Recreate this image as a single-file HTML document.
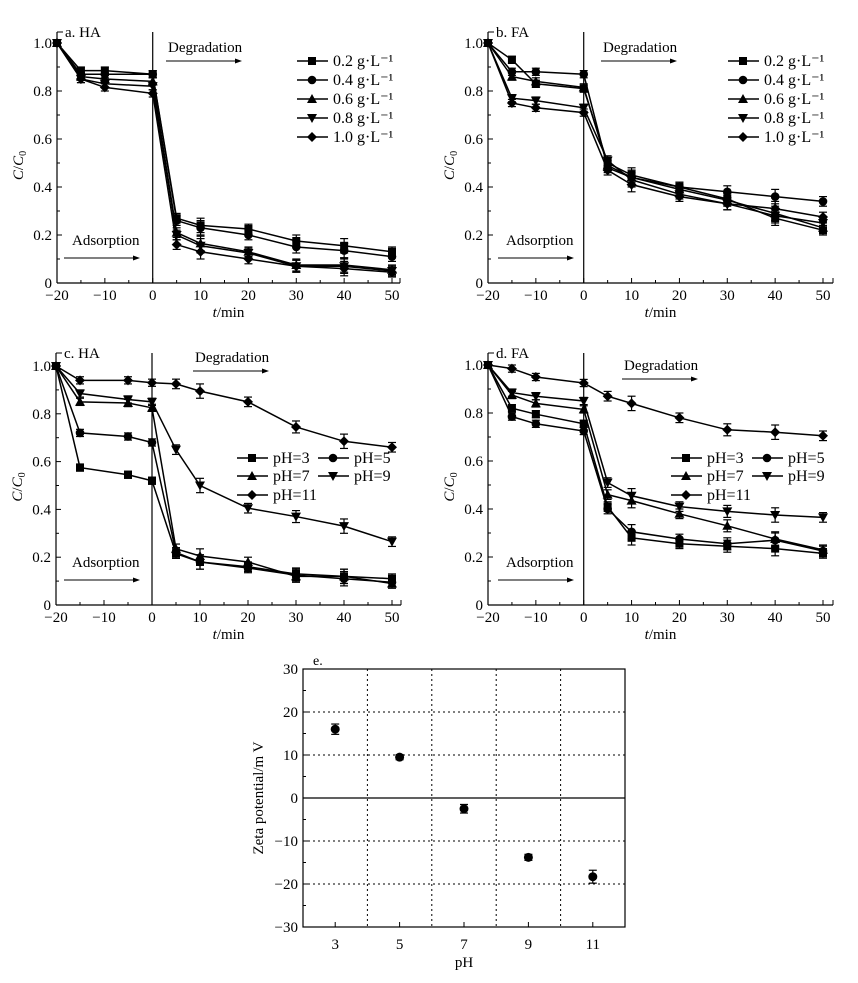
<!DOCTYPE html>
<html><head><meta charset="utf-8"><style>
body{margin:0;background:#fff}
svg{display:block;font-family:"Liberation Serif",serif}
</style></head><body>
<svg id="fig" width="858" height="983" viewBox="0 0 858 983" xmlns="http://www.w3.org/2000/svg"></svg>
<script>
// ---- data ----
const tA = [-20,-15,-10,0,5,10,20,30,40,50];
const tC = [-20,-15,-5,0,5,10,20,30,40,50];
const doseLabels = ["0.2 g·L⁻¹","0.4 g·L⁻¹","0.6 g·L⁻¹","0.8 g·L⁻¹","1.0 g·L⁻¹"];
const pHLabels = ["pH=3","pH=5","pH=7","pH=9","pH=11"];
const a02 = [1,0.885,0.885,0.87,0.27,0.24,0.225,0.175,0.155,0.13];
const a04 = [1,0.87,0.87,0.87,0.26,0.23,0.2,0.15,0.135,0.11];
const a06 = [1,0.86,0.85,0.84,0.21,0.165,0.13,0.075,0.075,0.055];
const a08 = [1,0.85,0.83,0.82,0.2,0.155,0.125,0.07,0.07,0.05];
const a10 = [1,0.85,0.815,0.79,0.16,0.13,0.1,0.07,0.06,0.045];
const b02 = [1,0.93,0.83,0.81,0.5,0.45,0.4,0.35,0.27,0.22];
const b04 = [1,0.88,0.88,0.87,0.48,0.44,0.40,0.38,0.36,0.34];
const b06 = [1,0.86,0.84,0.815,0.49,0.44,0.39,0.345,0.29,0.23];
const b08 = [1,0.77,0.76,0.73,0.51,0.43,0.37,0.33,0.28,0.25];
const b10 = [1,0.75,0.73,0.71,0.47,0.41,0.36,0.33,0.31,0.275];
const c3 = [1,0.575,0.545,0.52,0.215,0.18,0.16,0.13,0.12,0.11];
const c5 = [1,0.72,0.705,0.68,0.22,0.18,0.155,0.125,0.11,0.095];
const c7 = [1,0.85,0.845,0.825,0.235,0.205,0.18,0.12,0.12,0.09];
const c9 = [1,0.885,0.86,0.85,0.65,0.5,0.405,0.37,0.33,0.265];
const c11 = [1,0.94,0.94,0.93,0.925,0.895,0.85,0.745,0.685,0.66];
const d3 = [1,0.82,0.795,0.755,0.41,0.28,0.255,0.245,0.235,0.215];
const d5 = [1,0.785,0.755,0.725,0.4,0.305,0.275,0.255,0.27,0.225];
const d7 = [1,0.875,0.84,0.815,0.46,0.435,0.38,0.33,0.275,0.23];
const d9 = [1,0.885,0.87,0.85,0.51,0.455,0.41,0.39,0.375,0.365];
const d11 = [1,0.985,0.95,0.925,0.87,0.84,0.78,0.73,0.72,0.705];
const errShared = [0,0.015,0.015,0.015,0.02,0.03,0.02,0.025,0.03,0.02];
const zetaPH = [3,5,7,9,11];
const zetaVal = [16,9.5,-2.5,-13.8,-18.3];
const zetaErr = [1.2,0.6,1.0,0.7,1.5];
const xTicks = [-20,-10,0,10,20,30,40,50];
const yTicks = [0,0.2,0.4,0.6,0.8,1.0];
const zTicksY = [-30,-20,-10,0,10,20,30];
const zTicksX = [3,5,7,9,11];

const NS="http://www.w3.org/2000/svg";
const svg=document.getElementById('fig');
function mk(tag,attrs,parent,text){const e=document.createElementNS(NS,tag);for(const k in attrs)e.setAttribute(k,attrs[k]);if(text!==undefined)e.textContent=text;(parent||svg).appendChild(e);return e;}
function marker(g,shape,x,y){
  let e;
  if(shape==='sq')e=mk('rect',{x:x-4,y:y-4,width:8,height:8,fill:'#000'},g);
  else if(shape==='ci')e=mk('circle',{cx:x,cy:y,r:4.3,fill:'#000'},g);
  else if(shape==='tu')e=mk('polygon',{points:`${x},${y-5} ${x-5},${y+4} ${x+5},${y+4}`,fill:'#000'},g);
  else if(shape==='td')e=mk('polygon',{points:`${x},${y+5} ${x-5},${y-4} ${x+5},${y-4}`,fill:'#000'},g);
  else e=mk('polygon',{points:`${x},${y-5} ${x+5},${y} ${x},${y+5} ${x-5},${y}`,fill:'#000'},g);
  
  
}
const shapes=['sq','ci','tu','td','di'];

function panel(o){
  const g=mk('g',{});
  
  
  const X=v=>o.x0+(v+20)*(o.x50-o.x0)/70;
  const Y=v=>o.y0+v*(o.y1-o.y0);
  mk('line',{x1:o.x0,y1:o.top,x2:o.x0,y2:o.y0,stroke:'#000','stroke-width':1.2},g);
  mk('line',{x1:o.x0,y1:o.y0,x2:o.right,y2:o.y0,stroke:'#000','stroke-width':1.2},g);
  mk('line',{x1:o.x0,y1:o.top,x2:o.x0+6,y2:o.top,stroke:'#000'},g);
  mk('line',{x1:o.right,y1:o.y0,x2:o.right,y2:o.y0-5,stroke:'#000'},g);
  xTicks.forEach(v=>{const x=X(v);mk('line',{x1:x,y1:o.y0,x2:x,y2:o.y0-5,stroke:'#000'},g);
    if(v<50)mk('line',{x1:X(v+5),y1:o.y0,x2:X(v+5),y2:o.y0-3,stroke:'#000'},g);
    mk('text',{x:x,y:o.y0+17,'font-size':15,'text-anchor':'middle'},g,v<0?'−'+(-v):String(v));});
  yTicks.forEach(v=>{const y=Y(v);mk('line',{x1:o.x0,y1:y,x2:o.x0+5,y2:y,stroke:'#000'},g);
    if(v<1)mk('line',{x1:o.x0,y1:Y(v+0.1),x2:o.x0+3,y2:Y(v+0.1),stroke:'#000'},g);
    mk('text',{x:o.x0-5,y:y+5,'font-size':15,'text-anchor':'end'},g,v===0?'0':v.toFixed(1));});
  mk('text',{x:(o.x0+o.right)/2,y:o.y0+34,'font-size':15,'text-anchor':'middle'},g).innerHTML='<tspan font-style="italic">t</tspan>/min';
  const yl=mk('text',{x:0,y:0,'font-size':15,'text-anchor':'middle',transform:`translate(${o.x0-34},${(o.top+o.y0)/2+8}) rotate(-90)`},g);
  yl.innerHTML='<tspan font-style="italic">C</tspan>/<tspan font-style="italic">C</tspan><tspan font-size="10" dy="3">0</tspan>';
  mk('text',{x:o.x0+8,y:o.top+5,'font-size':15},g,o.title);
  mk('line',{x1:X(0),y1:o.top,x2:X(0),y2:o.y0,stroke:'#000','stroke-width':1.2},g);
  mk('text',{x:o.degX,y:o.degY,'font-size':15},g,'Degradation');
  mk('line',{x1:o.degX-2,y1:o.degY+9,x2:o.degX+68,y2:o.degY+9,stroke:'#000'},g);
  mk('polygon',{points:`${o.degX+74},${o.degY+9} ${o.degX+67},${o.degY+6.5} ${o.degX+67},${o.degY+11.5}`},g);
  mk('text',{x:o.adsX,y:o.adsY,'font-size':15},g,'Adsorption');
  mk('line',{x1:o.adsX-8,y1:o.adsY+13,x2:o.adsX+62,y2:o.adsY+13,stroke:'#000'},g);
  mk('polygon',{points:`${o.adsX+68},${o.adsY+13} ${o.adsX+61},${o.adsY+10.5} ${o.adsX+61},${o.adsY+15.5}`},g);
  o.series.forEach((s,i)=>{
    const sg=mk('g',{},g);
    
    
    mk('polyline',{points:s.map((v,j)=>X(o.t[j])+','+Y(v)).join(' '),fill:'none',stroke:'#000','stroke-width':1.5},sg);
    s.forEach((v,j)=>{const x=X(o.t[j]),e=errShared[j];
      if(e>0){mk('line',{x1:x,y1:Y(v-e),x2:x,y2:Y(v+e),stroke:'#000','stroke-width':1.2},sg);
        mk('line',{x1:x-4,y1:Y(v-e),x2:x+4,y2:Y(v-e),stroke:'#000','stroke-width':1.2},sg);
        mk('line',{x1:x-4,y1:Y(v+e),x2:x+4,y2:Y(v+e),stroke:'#000','stroke-width':1.2},sg);}
      marker(sg,shapes[i],x,Y(v));});
  });
  o.labels.forEach((l,i)=>{const p=o.leg[i];
    const lg=mk('g',{},g);
    
    
    mk('line',{x1:p[0],y1:p[1],x2:p[0]+31,y2:p[1],stroke:'#000','stroke-width':1.5},lg);
    marker(lg,shapes[i],p[0]+15,p[1]);
    mk('text',{x:p[0]+36,y:p[1]+5,'font-size':16},lg,l);});
}
const legA=x=>[0,1,2,3,4].map(i=>[x,61+i*19]);
panel({name:'panel-a-ha',title:'a. HA',x0:57,x50:392,right:400,top:32,y0:283,y1:43,t:tA,series:[a02,a04,a06,a08,a10],labels:doseLabels,leg:legA(297),degX:168,degY:52,adsX:72,adsY:245});
panel({name:'panel-b-fa',title:'b. FA',x0:488,x50:823,right:833,top:32,y0:283,y1:43,t:tA,series:[b02,b04,b06,b08,b10],labels:doseLabels,leg:legA(728),degX:603,degY:52,adsX:506,adsY:245});
panel({name:'panel-c-ha',title:'c. HA',x0:56,x50:392,right:401,top:353,y0:605,y1:366,t:tC,series:[c3,c5,c7,c9,c11],labels:pHLabels,leg:[[237,458],[318,458],[237,476],[318,476],[237,495]],degX:195,degY:362,adsX:72,adsY:567});
panel({name:'panel-d-fa',title:'d. FA',x0:488,x50:823,right:833,top:353,y0:605,y1:365,t:tA,series:[d3,d5,d7,d9,d11],labels:pHLabels,leg:[[671,458],[752,458],[671,476],[752,476],[671,495]],degX:624,degY:370,adsX:506,adsY:567});

(function(){
  const g=mk('g',{});
  
  
  const L=303,R=625,T=669,B=927;
  const X=v=>L+(v-2)*(R-L)/10, Y=v=>B-(v+30)*(B-T)/60;
  mk('rect',{x:L,y:T,width:R-L,height:B-T,fill:'none',stroke:'#000','stroke-width':1.2},g);
  [4,6,8,10].forEach(v=>mk('line',{x1:X(v),y1:T,x2:X(v),y2:B,stroke:'#000','stroke-dasharray':'2,3'},g));
  [-20,-10,10,20].forEach(v=>mk('line',{x1:L,y1:Y(v),x2:R,y2:Y(v),stroke:'#000','stroke-dasharray':'2,3'},g));
  mk('line',{x1:L,y1:Y(0),x2:R,y2:Y(0),stroke:'#000','stroke-width':1.2},g);
  zTicksY.forEach(v=>{mk('line',{x1:L,y1:Y(v),x2:L+5,y2:Y(v),stroke:'#000'},g);
    if(v<30)mk('line',{x1:L,y1:Y(v+5),x2:L+3,y2:Y(v+5),stroke:'#000'},g);
    mk('text',{x:L-5,y:Y(v)+5,'font-size':15,'text-anchor':'end'},g,v<0?'−'+(-v):String(v));});
  zTicksX.forEach(v=>{mk('line',{x1:X(v),y1:B,x2:X(v),y2:B-5,stroke:'#000'},g);
    mk('text',{x:X(v),y:B+22,'font-size':15,'text-anchor':'middle'},g,String(v));});
  mk('text',{x:(L+R)/2,y:B+40,'font-size':15,'text-anchor':'middle'},g,'pH');
  mk('text',{x:0,y:0,'font-size':15,'text-anchor':'middle',transform:`translate(${L-40},${(T+B)/2}) rotate(-90)`},g,'Zeta potential/m V');
  mk('text',{x:L+10,y:T-4,'font-size':14},g,'e.');
  zetaPH.forEach((p,i)=>{const x=X(p),v=zetaVal[i],e=zetaErr[i];
    mk('line',{x1:x,y1:Y(v-e),x2:x,y2:Y(v+e),stroke:'#000','stroke-width':1.2},g);
    mk('line',{x1:x-4,y1:Y(v-e),x2:x+4,y2:Y(v-e),stroke:'#000','stroke-width':1.2},g);
    mk('line',{x1:x-4,y1:Y(v+e),x2:x+4,y2:Y(v+e),stroke:'#000','stroke-width':1.2},g);
    const c=mk('circle',{cx:x,cy:Y(v),r:4.5,fill:'#000'},g);
    
    });
})();
</script>
</body></html>
